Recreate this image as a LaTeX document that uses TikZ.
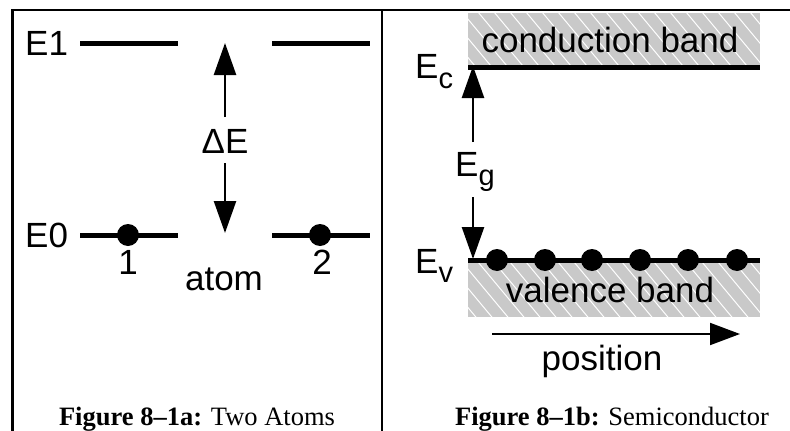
\documentclass[tikz,border=0pt]{standalone}
\usepackage{fontspec}
\setmainfont{Liberation Sans}
\newfontfamily\capfont{Liberation Serif}
\usetikzlibrary{arrows.meta}
\tikzset{
  frameline/.style={line width=2.5pt, black},
  elevel/.style={line width=5pt, black},
  gaparrow/.style={line width=2.5pt, -{Triangle[length=32pt,width=22pt]}},
  posarrow/.style={line width=2pt, -{Triangle[length=30pt,width=22pt]}},
  edot/.style={circle, fill=black, inner sep=0pt, minimum size=22pt},
  lbl/.style={inner sep=0pt, font=\fontsize{35}{40}\selectfont},
  captxt/.style={inner sep=0pt, font=\fontsize{26.5}{32}\selectfont\capfont},
  bandfill/.style={fill=gray!42, draw=none},
  stripeline/.style={white, line width=1pt},
}
\begin{document}
\begin{tikzpicture}[x=1pt,y=-1pt]
\useasboundingbox (0,0) rectangle (790,431);
% frame
\coordinate (fTL) at (12.5,10);
\coordinate (fTR) at (790,10);
\coordinate (fBL) at (12.5,431);
\coordinate (dT) at (382,10);
\coordinate (dB) at (382,431);
\draw[frameline] (fBL) -- (fTL) -- (fTR);
\draw[frameline] (dT) -- (dB);

% ---------- left panel ----------
\coordinate (e1a) at (80,43);
\coordinate (e1b) at (178,43);
\coordinate (e1c) at (272,43);
\coordinate (e1d) at (370,43);
\coordinate (e0a) at (80,235);
\coordinate (e0b) at (178,235);
\coordinate (e0c) at (272,235);
\coordinate (e0d) at (370,235);
\draw[elevel] (e1a) -- (e1b);
\draw[elevel] (e1c) -- (e1d);
\draw[elevel] (e0a) -- (e0b);
\draw[elevel] (e0c) -- (e0d);
\node[edot] (d1) at (128,235) {};
\node[edot] (d2) at (320,235) {};
\node[lbl, anchor=base west] (E1) at (25,55) {E1};
\node[lbl, anchor=base west] (E0) at (25,247) {E0};
\node[lbl, anchor=base] (n1) at (128,274) {1};
\node[lbl, anchor=base] (n2) at (322,274) {2};
\node[lbl, anchor=base] (atom) at (224,290) {atom};
\node[lbl, anchor=base] (dE) at (225,153) {ΔE};
\coordinate (dEu) at (225,117);
\coordinate (dEutip) at (225,43);
\coordinate (dEd) at (225,163);
\coordinate (dEdtip) at (225,233);
\draw[gaparrow] (dEu) -- (dEutip);
\draw[gaparrow] (dEd) -- (dEdtip);
\node[captxt, anchor=base] (capa) at (197,425) {\textbf{Figure 8–1a:} Two Atoms};

% ---------- right panel ----------
\fill[bandfill] (468,13) rectangle (760,67);
\begin{scope}
\clip (468,13) rectangle (760,67);
\foreach \i in {-10,...,22} \draw[stripeline] (468+16*\i,0) -- ++(100,120);
\end{scope}
\fill[bandfill] (468,260) rectangle (760,317);
\begin{scope}
\clip (468,260) rectangle (760,317);
\foreach \i in {-10,...,22} \draw[stripeline] (468+16*\i,250) -- ++(100,120);
\end{scope}
\coordinate (eca) at (468,67);
\coordinate (ecb) at (760,67);
\coordinate (eva) at (468,260);
\coordinate (evb) at (760,260);
\draw[elevel] (eca) -- (ecb);
\draw[elevel] (eva) -- (evb);
\foreach \k/\x in {1/497,2/545,3/592,4/640,5/688,6/737}
  \node[edot] (v\k) at (\x,260) {};
\node[lbl, anchor=base] (cb) at (610,52) {conduction band};
\node[lbl, anchor=base] (vb) at (610,302) {valence band};
\node[lbl, anchor=base west] (Ec) at (415,78) {E\raisebox{-10pt}{\fontsize{29}{32}\selectfont c}};
\node[lbl, anchor=base west] (Eg) at (455,176) {E\raisebox{-9pt}{\fontsize{29}{32}\selectfont g}};
\node[lbl, anchor=base west] (Ev) at (415,273) {E\raisebox{-9pt}{\fontsize{29}{32}\selectfont v}};
\coordinate (egu) at (473,142);
\coordinate (egutip) at (473,66);
\coordinate (egd) at (473,197);
\coordinate (egdtip) at (473,259);
\draw[gaparrow] (egu) -- (egutip);
\draw[gaparrow] (egd) -- (egdtip);
\coordinate (pa) at (492,334);
\coordinate (pb) at (740,334);
\draw[posarrow] (pa) -- (pb);
\node[lbl, anchor=base] (pos) at (602,370) {position};
\node[captxt, anchor=base] (capb) at (612,425) {\textbf{Figure 8–1b:} Semiconductor};
\end{tikzpicture}
\end{document}
